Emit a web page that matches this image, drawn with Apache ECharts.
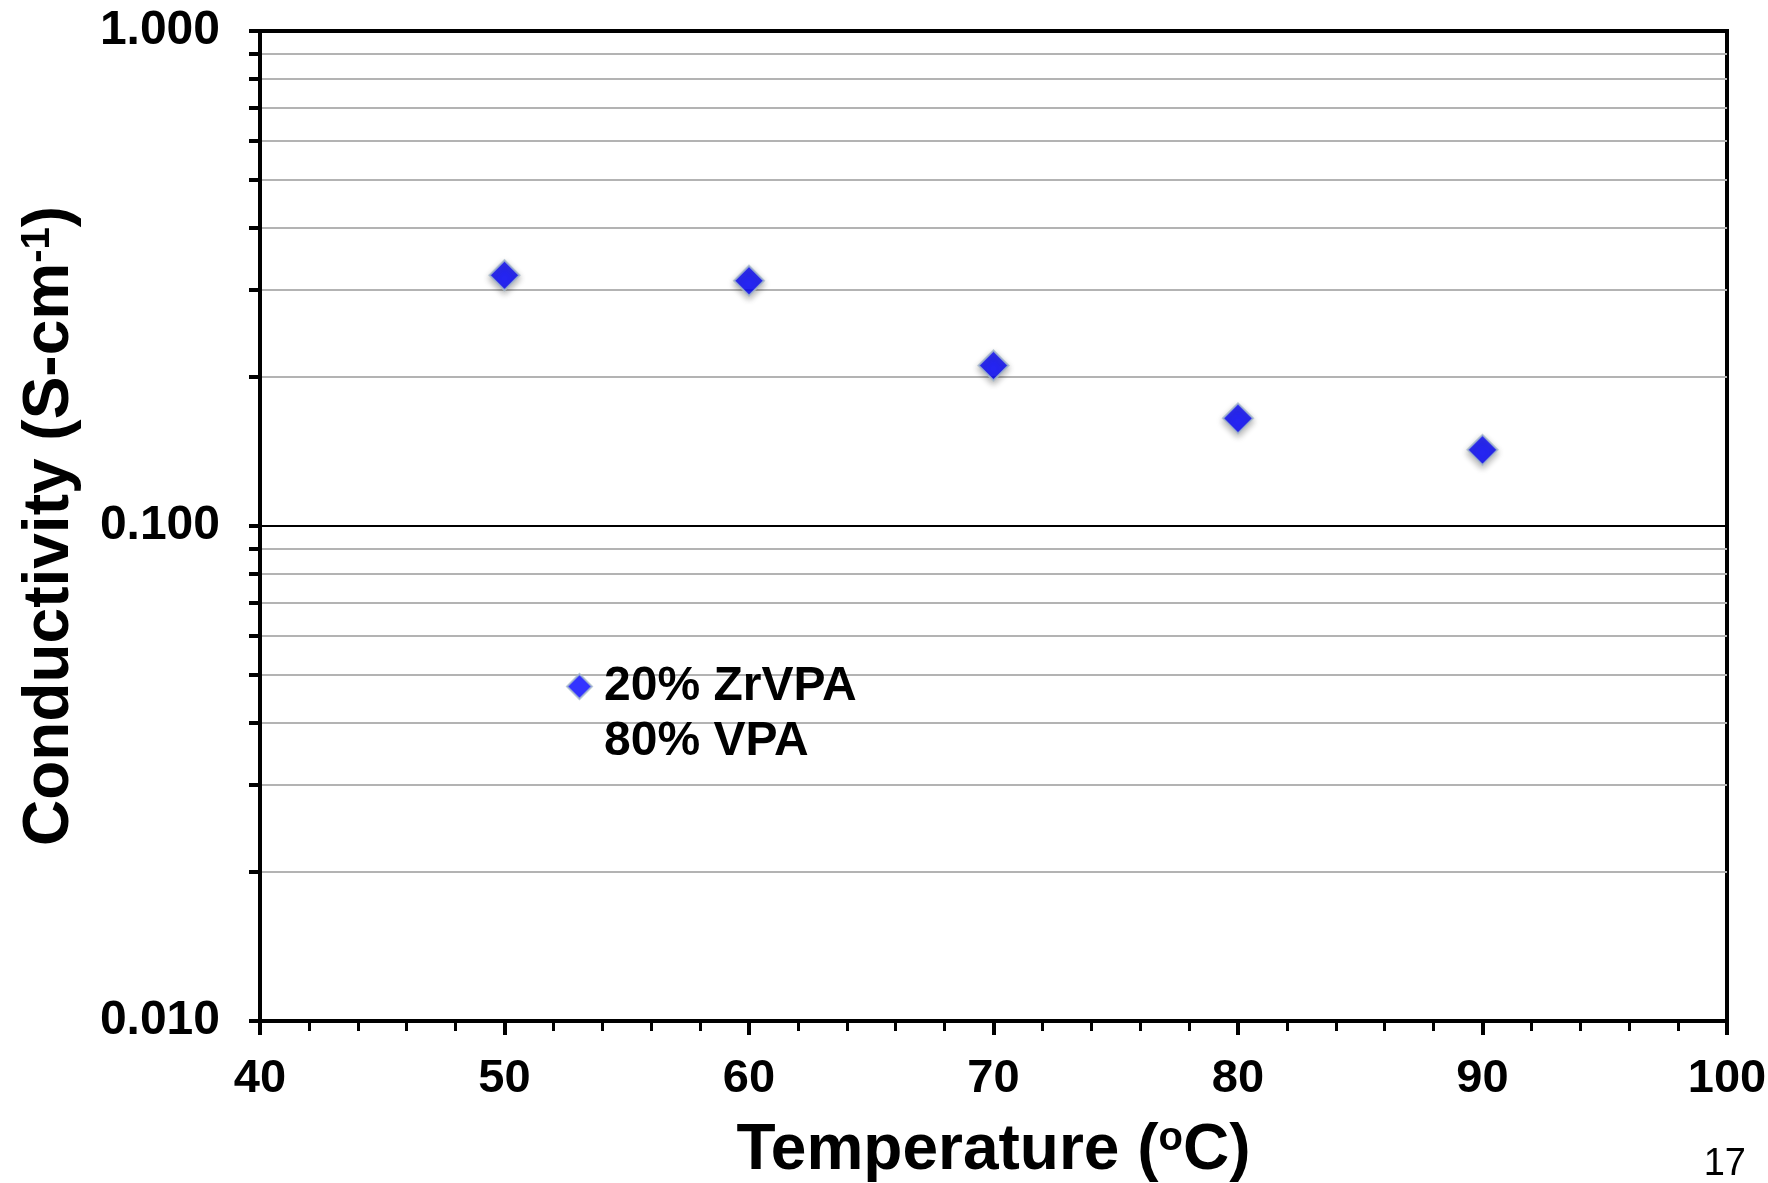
<!DOCTYPE html>
<html>
<head>
<meta charset="utf-8">
<script src="https://cdn.jsdelivr.net/npm/echarts@6/dist/echarts.min.js"></script>
<style>
  html, body { margin: 0; padding: 0; background: #fff; }
  #main { width: 1768px; height: 1183px; }
</style>
</head>
<body>
<div id="main"></div>
<script>
// data
var temps = [50, 60, 70, 80, 90];
var conductivity = [0.321, 0.313, 0.211, 0.165, 0.1425];
var seriesName = "20% ZrVPA\n80% VPA";

// log ticks: 1..9 per decade, plus the top value
var yTicks = [];
[0.01, 0.1].forEach(function (d) {
  for (var k = 1; k <= 9; k++) yTicks.push(+(k * d).toFixed(3));
});
yTicks.push(1);
var yLabels = [0.01, 0.1, 1];

var font = "Liberation Sans";

function init() {
  var myChart = echarts.init(document.getElementById("main")),
    data = [];
  for (var i = 0; i < temps.length; i++) data.push([temps[i], conductivity[i]]);

  var supStyle = {
    fontFamily: font,
    fontWeight: "bold",
    fontSize: 40,
    verticalAlign: "top",
    color: "#000"
  };

  var option = {
    backgroundColor: "#fff",
    animation: false,
    grid: {
      left: 260,
      top: 31,
      right: 41,
      bottom: 162,
      outerBoundsMode: "none",
      show: true,
      borderColor: "#000",
      borderWidth: 4
    },
    xAxis: {
      type: "value",
      min: 40,
      max: 100,
      interval: 10,
      name: "Temperature ({sup|o}C)",
      nameLocation: "middle",
      nameGap: 98,
      nameTextStyle: {
        fontFamily: font,
        fontWeight: "bold",
        fontSize: 64,
        color: "#000",
        rich: { sup: supStyle }
      },
      axisLine: { show: true, lineStyle: { color: "#000", width: 4 } },
      axisTick: { show: true, length: 14, lineStyle: { color: "#000", width: 4 } },
      minorTick: { show: true, splitNumber: 5, length: 10, lineStyle: { color: "#000", width: 3 } },
      splitLine: { show: false },
      axisLabel: {
        margin: 35,
        fontFamily: font,
        fontWeight: "bold",
        fontSize: 47,
        color: "#000"
      }
    },
    yAxis: {
      type: "log",
      logBase: 10,
      min: 0.01,
      max: 1,
      name: "Conductivity (S-cm{sup|-1})",
      nameLocation: "middle",
      nameGap: 178,
      nameTextStyle: {
        fontFamily: font,
        fontWeight: "bold",
        fontSize: 64,
        color: "#000",
        rich: { sup: supStyle }
      },
      axisLine: { show: true, lineStyle: { color: "#000", width: 4 } },
      axisTick: {
        show: true,
        length: 11,
        customValues: yTicks,
        lineStyle: { color: "#000", width: 4 }
      },
      splitLine: {
        show: true,
        showMinLine: false,
        showMaxLine: false,
        lineStyle: { color: "#b3b3b3", width: 2 }
      },
      axisLabel: {
        margin: 40,
        fontFamily: font,
        fontWeight: "bold",
        fontSize: 48,
        color: "#000",
        customValues: yLabels,
        formatter: function (v) {
          return Number(v).toFixed(3);
        }
      }
    },
    legend: {
      left: 566,
      top: 604,
      padding: 0,
      orient: "vertical",
      icon: "diamond",
      itemWidth: 25,
      itemHeight: 25,
      // blank first line keeps the icon beside the first text line
      formatter: function (name) {
        return "\n" + name;
      },
      textStyle: {
        fontFamily: font,
        fontWeight: "bold",
        fontSize: 48,
        lineHeight: 55,
        color: "#000",
        padding: [0, 0, 0, 7]
      },
      data: [seriesName]
    },
    graphic: [
      {
        type: "text",
        right: 22,
        top: 1146,
        style: { text: "17", fontFamily: font, fontSize: 38, fill: "#000" }
      }
    ],
    series: [
      {
        name: seriesName,
        type: "scatter",
        symbol: "diamond",
        symbolSize: 30,
        data: data,
        itemStyle: {
          color: "#0000ff",
          borderColor: "#a7bccb",
          borderWidth: 2,
          shadowBlur: 6,
          shadowOffsetY: 3,
          shadowColor: "rgba(0,0,0,0.35)"
        },
        markLine: {
          silent: true,
          symbol: "none",
          label: { show: false },
          lineStyle: { color: "#000", width: 2, type: "solid" },
          data: [{ yAxis: 0.1 }]
        }
      }
    ]
  };

  if (option && typeof option === "object") myChart.setOption(option);
  window.addEventListener("resize", function () {
    myChart.resize();
  });
}
init();
</script>
</body>
</html>
